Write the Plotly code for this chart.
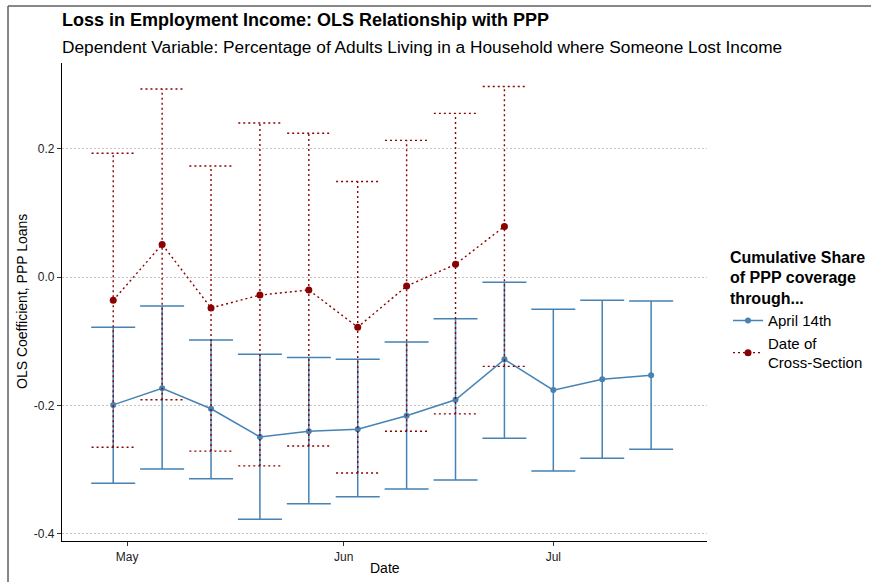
import datetime as dt
import plotly.graph_objects as go

# Weekly cross-sections
dates = ["2020-04-29", "2020-05-06", "2020-05-13", "2020-05-20", "2020-05-27", "2020-06-03",
         "2020-06-10", "2020-06-17", "2020-06-24", "2020-07-01", "2020-07-08", "2020-07-15"]

# PPP coverage through April 14th
apr_coef = [-0.199, -0.173, -0.205, -0.249, -0.240, -0.237, -0.216, -0.191, -0.128, -0.176, -0.159, -0.153]
apr_hi   = [-0.078, -0.045, -0.098, -0.120, -0.125, -0.128, -0.101, -0.065, -0.008, -0.050, -0.036, -0.037]
apr_lo   = [-0.321, -0.299, -0.314, -0.377, -0.353, -0.342, -0.330, -0.316, -0.251, -0.302, -0.282, -0.268]

# PPP coverage through the date of each cross-section
xs_coef = [-0.036, 0.051, -0.048, -0.028, -0.020, -0.078, -0.014, 0.020, 0.079]
xs_hi   = [0.193, 0.293, 0.173, 0.240, 0.224, 0.149, 0.213, 0.255, 0.297]
xs_lo   = [-0.265, -0.191, -0.271, -0.294, -0.263, -0.305, -0.240, -0.213, -0.139]

y_ticks = [0.2, 0.0, -0.2, -0.4]
x_ticks = ["2020-05-01", "2020-06-01", "2020-07-01"]
x_tick_text = ["May", "Jun", "Jul"]

BLUE = "#4682B4"
RED = "#8B0000"
FONT = "Liberation Sans, Arial, sans-serif"
CAP = dt.timedelta(days=3.1)
DOT = "2px,3px"

fig = go.Figure()

# April 14th series: solid line with error bars
fig.add_trace(go.Scatter(
    x=dates, y=apr_coef, mode="lines+markers", name="April 14th",
    line=dict(color=BLUE, width=1.5),
    marker=dict(color=BLUE, size=6),
    error_y=dict(type="data", symmetric=False,
                 array=[h - c for h, c in zip(apr_hi, apr_coef)],
                 arrayminus=[c - l for c, l in zip(apr_coef, apr_lo)],
                 color=BLUE, thickness=1.5, width=22),
))

# Date-of-cross-section series: dotted error bars drawn as segments
ex, ey = [], []
for d, lo, hi in zip(dates[:len(xs_coef)], xs_lo, xs_hi):
    t = dt.datetime.fromisoformat(d)
    ex += [t, t, None, t - CAP, t + CAP, None, t - CAP, t + CAP, None]
    ey += [lo, hi, None, hi, hi, None, lo, lo, None]
fig.add_trace(go.Scatter(
    x=ex, y=ey, mode="lines", showlegend=False, hoverinfo="skip",
    line=dict(color=RED, width=1.4, dash=DOT),
))
fig.add_trace(go.Scatter(
    x=dates[:len(xs_coef)], y=xs_coef, mode="lines+markers", name="Date of<br>Cross-Section",
    line=dict(color=RED, width=1.4, dash=DOT),
    marker=dict(color=RED, size=7),
))

fig.update_layout(
    width=871, height=582,
    margin=dict(l=62, r=164, t=63, b=41, autoexpand=False),
    paper_bgcolor="white", plot_bgcolor="white",
    font=dict(family=FONT, color="black"),
    showlegend=True,
    legend=dict(
        title=dict(text="<b>Cumulative Share<br>of PPP coverage<br>through...</b>",
                   font=dict(size=16, color="black")),
        font=dict(size=15, color="black"),
        x=1.0326, xanchor="left", xref="paper", y=0.626, yanchor="top",
        bgcolor="rgba(0,0,0,0)", tracegroupgap=0, itemwidth=30,
    ),
    xaxis=dict(
        type="date", range=["2020-04-21 16:00", "2020-07-23"],
        tickvals=x_ticks, ticktext=x_tick_text,
        ticks="outside", ticklen=4, tickcolor="#333", tickwidth=1,
        tickfont=dict(size=12, color="#222"),
        showline=True, linecolor="black", linewidth=1.3,
        showgrid=False, zeroline=False,
    ),
    yaxis=dict(
        range=[-0.411, 0.3335],
        tickvals=y_ticks, ticktext=[f"{v:.1f}" for v in y_ticks],
        ticks="outside", ticklen=4, tickcolor="#333", tickwidth=1,
        tickfont=dict(size=12, color="#222"),
        showline=True, linecolor="black", linewidth=1.3,
        showgrid=True, gridcolor="#c4c4c4", gridwidth=1, griddash="1.5px,2.5px",
        zeroline=False,
    ),
    annotations=[
        dict(text="<b>Loss in Employment Income: OLS Relationship with PPP</b>",
             xref="paper", yref="paper", x=-0.003, y=1.0895, xanchor="left", yanchor="middle",
             showarrow=False, font=dict(size=18, color="black")),
        dict(text="Dependent Variable: Percentage of Adults Living in a Household where Someone Lost Income",
             xref="paper", yref="paper", x=-0.003, y=1.0345, xanchor="left", yanchor="middle",
             showarrow=False, font=dict(size=17.3, color="black")),
        dict(text="OLS Coefficient, PPP Loans", textangle=-90,
             xref="paper", yref="paper", x=-0.062, y=0.5, xanchor="center", yanchor="middle",
             showarrow=False, font=dict(size=14, color="black")),
        dict(text="Date", xref="paper", yref="paper", x=0.5, y=-0.056,
             xanchor="center", yanchor="middle",
             showarrow=False, font=dict(size=14, color="black")),
    ],
    shapes=[
        dict(type="line", xref="paper", yref="paper", x0=-0.0837, x1=-0.0837, y0=-0.1, y1=1.119,
             line=dict(color="#606060", width=1.5)),
        dict(type="line", xref="paper", yref="paper", x0=-0.0837, x1=1.26, y0=1.119, y1=1.119,
             line=dict(color="#606060", width=1.5)),
    ],
)

fig.write_html("out.html")
